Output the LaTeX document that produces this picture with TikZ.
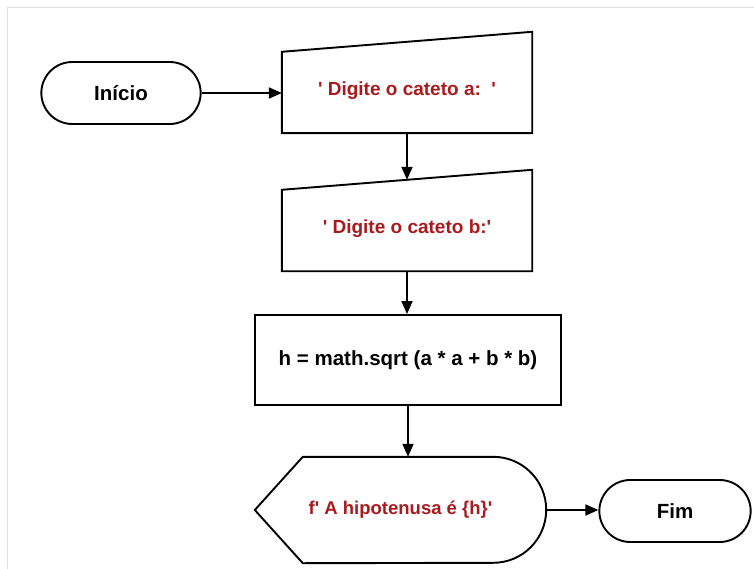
\documentclass[tikz,border=0pt]{standalone}
\usepackage{fontspec}
\newfontfamily\flowfont{Liberation Sans}
\usetikzlibrary{shapes.misc,arrows.meta}

\definecolor{inred}{RGB}{168,26,30}
\definecolor{framegray}{RGB}{224,224,224}

\tikzset{
  line/.style={draw=black, line width=1.9pt},
  term/.style={rounded rectangle, line, minimum height=62pt,
    font=\flowfont\bfseries\fontsize{20.5}{24}\selectfont},
  inbox/.style={minimum width=250pt, minimum height=84pt, text=inred,
    font=\flowfont\bfseries\fontsize{19}{22}\selectfont},
  procbox/.style={rectangle, line, minimum width=306pt, minimum height=90pt,
    font=\flowfont\bfseries\fontsize{20.5}{24}\selectfont},
  outbox/.style={minimum width=291pt, minimum height=106pt, text=inred,
    font=\flowfont\bfseries\fontsize{18.5}{22}\selectfont},
  flow/.style={line, -{Triangle[length=13pt,width=11pt]}}
}

\begin{document}
\begin{tikzpicture}[x=1pt,y=1pt]
  \useasboundingbox (0,0) rectangle (754,-569);
  % Frame
  \draw[framegray, line width=1pt] (7,-569) -- (7,-8) -- (754,-8);

  % Nodes
  \node[term, minimum width=166pt] (inicio) at (121,-93) {Início};
  \node[inbox] (ina) at (407,-91) {\textquotesingle{} Digite o cateto a:\ \ \textquotesingle};
  \node[inbox] (inb) at (407,-229) {\textquotesingle{} Digite o cateto b:\textquotesingle};
  \node[procbox] (calc) at (408,-360) {h = math.sqrt (a * a + b * b)};
  \node[outbox] (saida) at (400.5,-510) {f\textquotesingle{} A hipotenusa é \{h\}\textquotesingle};
  \node[term, minimum width=158pt] (fim) at (675,-511) {Fim};

  % Manual input shapes
  \foreach \n in {ina,inb}
    \draw[line] (\n.south west) -- (\n.south east) -- ([yshift=17pt]\n.north east)
      -- ([yshift=-3pt]\n.north west) -- cycle;

  % Display shape
  \draw[line] (saida.west) -- ([xshift=48pt]saida.north west)
    -- ([xshift=-53pt]saida.north east) arc[start angle=90, end angle=-90, radius=53pt]
    -- ([xshift=48pt]saida.south west) -- cycle;

  % Connectors
  \draw[flow] (inicio.east) -- (inicio.east -| ina.west);
  \draw[flow] (ina.south) -- ([yshift=7pt]inb.north);
  \draw[flow] (inb.south) -- (inb.south |- calc.north);
  \draw[flow] (calc.south) -- (calc.south |- saida.north);
  \draw[flow] (saida.east) -- (saida.east -| fim.west);
\end{tikzpicture}
\end{document}
